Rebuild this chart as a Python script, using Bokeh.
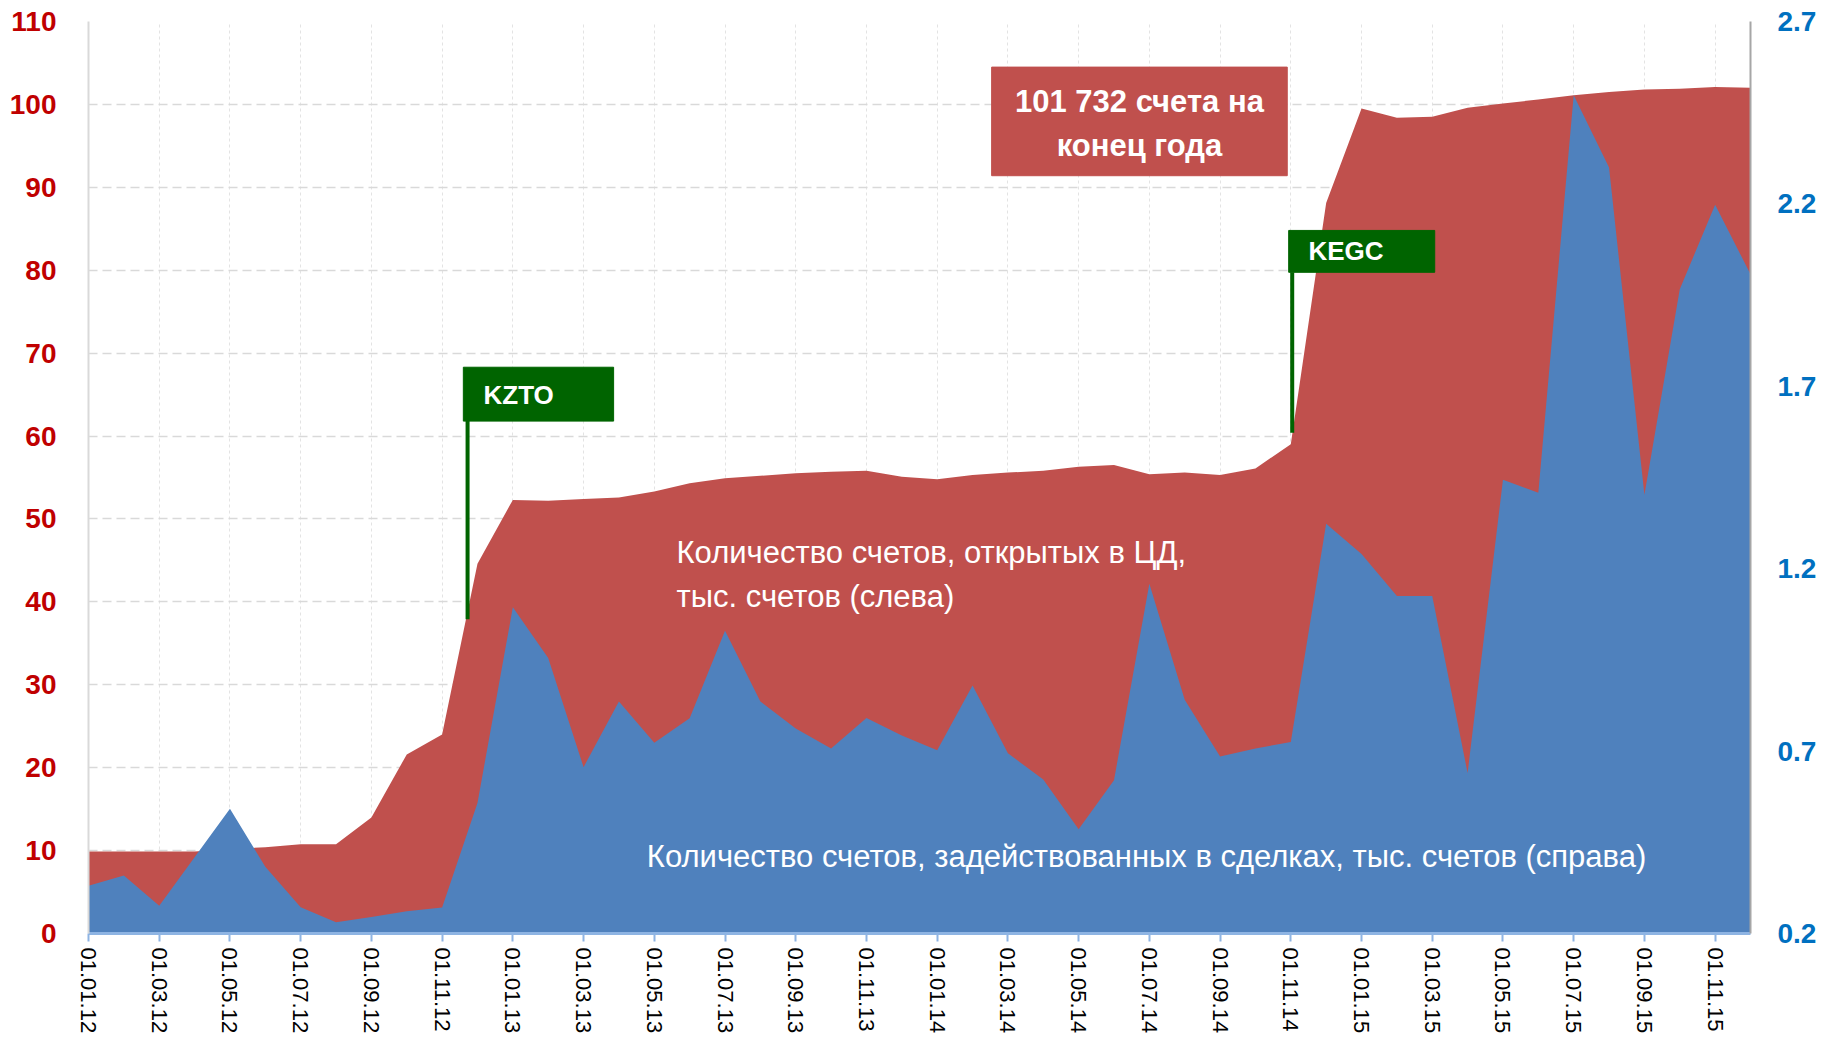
import numpy as np
from bokeh.plotting import figure
from bokeh.models import Range1d, LinearAxis, FixedTicker
from bokeh.core.properties import value
from bokeh.embed import file_html
from bokeh.resources import INLINE

# ---------------- data ----------------
# monthly points 01.01.12 ... 01.12.15 (48 months)
tick_labels = ["01.01.12", "01.03.12", "01.05.12", "01.07.12", "01.09.12", "01.11.12",
               "01.01.13", "01.03.13", "01.05.13", "01.07.13", "01.09.13", "01.11.13",
               "01.01.14", "01.03.14", "01.05.14", "01.07.14", "01.09.14", "01.11.14",
               "01.01.15", "01.03.15", "01.05.15", "01.07.15", "01.09.15", "01.11.15"]

# accounts opened in CD, thousand accounts (left axis)
accounts_open = [9.9, 9.9, 9.9, 9.9, 10.2, 10.4, 10.75, 10.75, 14.0, 21.6, 24.0, 44.6,
                 52.3, 52.2, 52.4, 52.6, 53.3, 54.3, 54.9, 55.2, 55.5, 55.7, 55.8, 55.1,
                 54.8, 55.3, 55.6, 55.8, 56.3, 56.5, 55.4, 55.6, 55.3, 56.1, 59.0, 88.1,
                 99.5, 98.4, 98.5, 99.6, 100.1, 100.6, 101.1, 101.5, 101.8, 101.9, 102.1, 102.0]

# accounts active in deals, thousand accounts (right axis)
accounts_active = [0.331, 0.359, 0.276, 0.409, 0.542, 0.383, 0.272, 0.231, 0.245, 0.261, 0.271, 0.558,
                   1.094, 0.955, 0.656, 0.836, 0.723, 0.790, 1.030, 0.836, 0.762, 0.707, 0.791, 0.743,
                   0.702, 0.880, 0.694, 0.622, 0.486, 0.620, 1.159, 0.841, 0.685, 0.707, 0.725, 1.323,
                   1.240, 1.125, 1.125, 0.640, 1.444, 1.408, 2.498, 2.300, 1.403, 1.966, 2.198, 2.007]

left_ticks = [0, 10, 20, 30, 40, 50, 60, 70, 80, 90, 100, 110]
right_ticks = [0.2, 0.7, 1.2, 1.7, 2.2, 2.7]
right_tick_labels = ["0.2", "0.7", "1.2", "1.7", "2.2", "2.7"]

month_idx = list(range(len(accounts_open)))
tick_idx = list(range(0, len(accounts_open), 2))

FONT = "Liberation Sans"
RED = "#C0504D"
BLUE = "#4F81BD"
GREEN = "#006400"

p = figure(width=1830, height=1036, output_backend="svg", toolbar_location=None,
           x_range=Range1d(0, 47), y_range=Range1d(0, 110),
           min_border_left=88, min_border_right=80, min_border_top=21, min_border_bottom=102)
p.extra_y_ranges = {"right": Range1d(0.2, 2.7)}
p.outline_line_color = None

# grids
p.ygrid.ticker = FixedTicker(ticks=left_ticks)
p.ygrid.grid_line_color = "#D9D9D9"
p.ygrid.grid_line_width = 1.5
p.ygrid.grid_line_dash = "9 5"
p.xgrid.ticker = FixedTicker(ticks=tick_idx)
p.xgrid.grid_line_color = "#E3E3E3"
p.xgrid.grid_line_width = 1
p.xgrid.grid_line_dash = "3 3"

# areas
p.varea(x=month_idx, y1=0, y2=accounts_open, color=RED)
p.varea(x=month_idx, y1=0.2, y2=accounts_active, color=BLUE, y_range_name="right")

# left axis
ya = p.yaxis[0]
ya.ticker = FixedTicker(ticks=left_ticks)
ya.axis_line_color = "#D9D9D9"
ya.axis_line_width = 2
ya.major_tick_line_color = None
ya.minor_tick_line_color = None
ya.major_tick_out = 0
ya.major_label_standoff = 32
ya.major_label_text_color = "#C00000"
ya.major_label_text_font = FONT
ya.major_label_text_font_style = "bold"
ya.major_label_text_font_size = "28px"

# right axis
ra = LinearAxis(y_range_name="right", ticker=FixedTicker(ticks=right_ticks),
                major_label_overrides={t: s for t, s in zip(right_ticks, right_tick_labels)})
ra.axis_line_color = "#A6A6A6"
ra.axis_line_width = 2
ra.major_tick_line_color = None
ra.minor_tick_line_color = None
ra.major_tick_out = 0
ra.major_label_standoff = 27
ra.major_label_text_color = "#0070C0"
ra.major_label_text_font = FONT
ra.major_label_text_font_style = "bold"
ra.major_label_text_font_size = "28px"
p.add_layout(ra, "right")

# bottom axis
xa = p.xaxis[0]
xa.ticker = FixedTicker(ticks=tick_idx)
xa.major_label_overrides = {i: s for i, s in zip(tick_idx, tick_labels)}
xa.major_label_orientation = "vertical"
xa.axis_line_color = "#8EB4E3"
xa.axis_line_width = 3
xa.major_tick_line_color = "#8EB4E3"
xa.major_tick_line_width = 2
xa.major_tick_out = 8
xa.major_tick_in = 0
xa.minor_tick_line_color = None
xa.major_label_standoff = 6
xa.major_label_text_font = FONT
xa.major_label_text_font_size = "22px"
xa.major_label_text_color = "#000000"

# annotations: end-of-year box
p.quad(left=[25.54], right=[33.9], bottom=[91.4], top=[104.5], color=RED)
p.text(x=[29.72, 29.72], y=[100.4, 95.1], text=["101 732 счета на", "конец года"],
       text_color="white", text_font=value(FONT), text_font_style="bold",
       text_font_size="31px", text_align="center", text_baseline="middle")

# KZTO marker
p.quad(left=[10.6], right=[14.85], bottom=[61.8], top=[68.3], color=GREEN)
p.segment(x0=[10.72], y0=[61.8], x1=[10.72], y1=[37.9], line_color=GREEN, line_width=4)
p.text(x=[11.17], y=[64.9], text=["KZTO"], text_color="white", text_font=value(FONT),
       text_font_style="bold", text_font_size="26px", text_align="left", text_baseline="middle")

# KEGC marker
p.quad(left=[33.94], right=[38.07], bottom=[79.75], top=[84.8], color=GREEN)
p.segment(x0=[34.04], y0=[79.75], x1=[34.04], y1=[60.4], line_color=GREEN, line_width=4)
p.text(x=[34.5], y=[82.3], text=["KEGC"], text_color="white", text_font=value(FONT),
       text_font_style="bold", text_font_size="26px", text_align="left", text_baseline="middle")

# series labels
p.text(x=[16.63, 16.63], y=[46.0, 40.6],
       text=["Количество счетов, открытых в ЦД,", "тыс. счетов  (слева)"],
       text_color="white", text_font=value(FONT), text_font_size="31px",
       text_align="left", text_baseline="middle")
p.text(x=[15.79], y=[9.3],
       text=["Количество счетов, задействованных в сделках, тыс. счетов  (справа)"],
       text_color="white", text_font=value(FONT), text_font_size="31px",
       text_align="left", text_baseline="middle")

open("out.html", "w").write(file_html(p, INLINE))
